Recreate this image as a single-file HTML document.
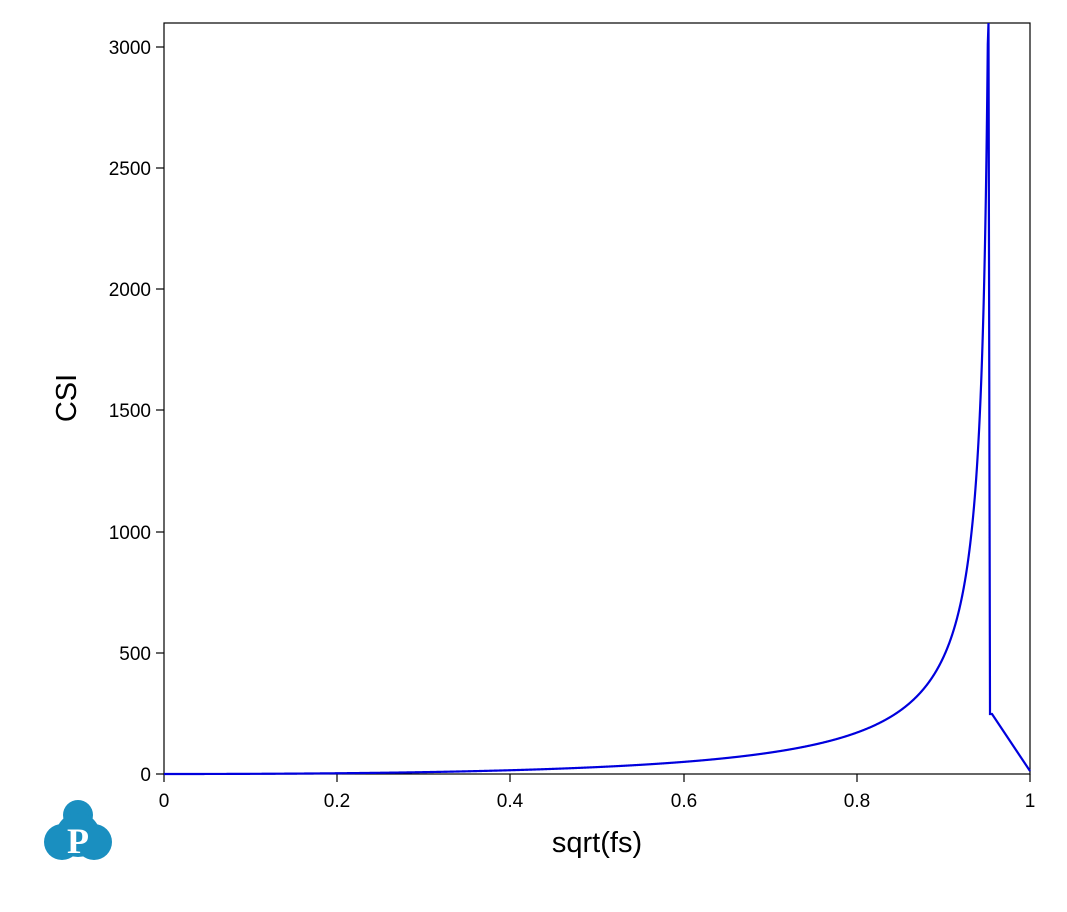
<!DOCTYPE html>
<html><head><meta charset="utf-8"><style>
body{margin:0;background:#fff;}
svg text{font-family:"Liberation Sans",Arial,sans-serif;fill:#000;}
</style></head><body>
<svg width="1067" height="907" viewBox="0 0 1067 907" xmlns="http://www.w3.org/2000/svg">
<rect x="164" y="23" width="866" height="751" fill="none" stroke="#000" stroke-width="1.2"/>
<g stroke="#000" stroke-width="1.2">
<line x1="164" y1="774" x2="164" y2="782"/><line x1="337" y1="774" x2="337" y2="782"/><line x1="510" y1="774" x2="510" y2="782"/><line x1="684" y1="774" x2="684" y2="782"/><line x1="857" y1="774" x2="857" y2="782"/><line x1="1030" y1="774" x2="1030" y2="782"/>
<line x1="156" y1="774" x2="164" y2="774"/><line x1="156" y1="653" x2="164" y2="653"/><line x1="156" y1="532" x2="164" y2="532"/><line x1="156" y1="410" x2="164" y2="410"/><line x1="156" y1="289" x2="164" y2="289"/><line x1="156" y1="168" x2="164" y2="168"/><line x1="156" y1="47" x2="164" y2="47"/>
</g>
<g font-size="19" text-anchor="middle">
<text x="164" y="807">0</text><text x="337" y="807">0.2</text><text x="510" y="807">0.4</text><text x="684" y="807">0.6</text><text x="857" y="807">0.8</text><text x="1030" y="807">1</text>
</g>
<g font-size="19" text-anchor="end">
<text x="151" y="781">0</text><text x="151" y="660">500</text><text x="151" y="539">1000</text><text x="151" y="417">1500</text><text x="151" y="296">2000</text><text x="151" y="175">2500</text><text x="151" y="54">3000</text>
</g>
<text x="597" y="852" font-size="29" text-anchor="middle">sqrt(fs)</text>
<text transform="translate(76,398) rotate(-90)" font-size="29" text-anchor="middle">CSI</text>
<path id="curve" fill="none" stroke="#0000dd" stroke-width="2.2" d=""/>
<g fill="#1a8fc0">
<circle cx="78" cy="815" r="15"/><circle cx="62" cy="842" r="18"/><circle cx="94" cy="842" r="18"/><circle cx="78" cy="835" r="22"/>
</g>
<text x="78" y="853" font-size="36" font-weight="bold" text-anchor="middle" style="fill:#fff;font-family:'Liberation Serif',serif">P</text>
</svg>
<script>
var pts=[];
for(var i=0;i<=3000;i++){var x=i/3000*0.957;var v=61*x*x/Math.pow(0.958-x,0.8);
if(v>3100){break;}pts.push([164+x*866,774-v*0.24233]);}
pts.push([988.5,23]);pts.push([990,714]);pts.push([992,714]);pts.push([1030,771]);
document.getElementById('curve').setAttribute('d','M'+pts.map(function(p){return p[0].toFixed(2)+','+p[1].toFixed(2)}).join(' L'));
</script>
</body></html>
